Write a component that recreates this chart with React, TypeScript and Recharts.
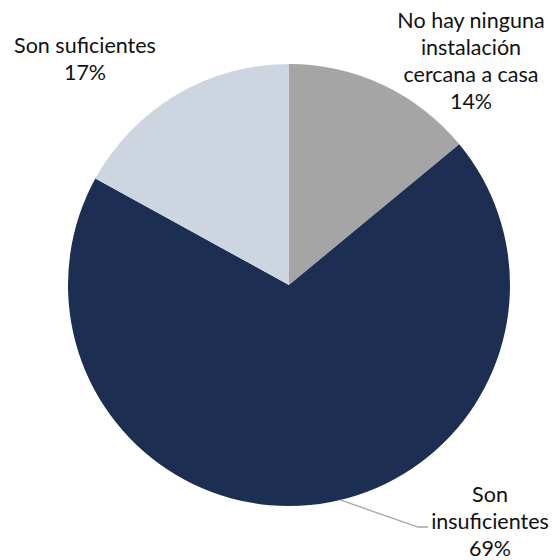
import { PieChart, Pie, Cell } from "recharts";

const categorias = ["No hay ninguna instalación cercana a casa", "Son insuficientes", "Son suficientes"];
const valores = [14, 69, 17];
const lineasEtiqueta = [["No hay ninguna", "instalación", "cercana a casa"], ["Son", "insuficientes"], ["Son suficientes"]];
const colores = ["#a5a5a5", "#1c2e52", "#cdd6e0"];

const dados = categorias.map((nome, i) => ({ nome, valor: valores[i] }));

const CX = 289;
const CY = 285;
const RAIO = 221;
const FONTE = "Lato, 'Open Sans', sans-serif";
const ESPACO = 27;

// where each label block sits, relative to the pie centre (x centre, first baseline)
const posEtiqueta = [
  { dx: 182, dy: -257 },
  { dx: 201, dy: 217 },
  { dx: -204, dy: -232 },
];

function Etiqueta(props: any) {
  const { index, percent } = props;
  const cx = props.cx ?? CX;
  const cy = props.cy ?? CY;
  const r = props.outerRadius ?? RAIO;
  const pos = posEtiqueta[index];
  const x = cx + pos.dx;
  const y0 = cy + pos.dy;
  const linhas = [...lineasEtiqueta[index], `${Math.round(percent * 100)}%`];

  let linha = null;
  if (index === 1) {
    const ang = (76.6 * Math.PI) / 180;
    const sx = cx + r * Math.cos(ang);
    const sy = cy + r * Math.sin(ang);
    linha = (
      <polyline
        points={`${sx},${sy} ${cx + 129},${cy + 242} ${cx + 139},${cy + 242}`}
        fill="none"
        stroke="#a6a6a6"
        strokeWidth={1.3}
      />
    );
  }

  return (
    <g>
      {linha}
      <text x={x} y={y0} textAnchor="middle" fill="#111" fontSize={21.5} fontFamily={FONTE}>
        {linhas.map((l, i) => (
          <tspan key={i} x={x} y={y0 + i * ESPACO}>
            {l}
          </tspan>
        ))}
      </text>
    </g>
  );
}

export default function App() {
  return (
    <div style={{ position: "absolute", left: 0, top: 0, width: 554, height: 560, background: "#fff" }}>
      <PieChart width={554} height={560} margin={{ top: 0, right: 0, bottom: 0, left: 0 }}>
        <Pie
          data={dados}
          dataKey="valor"
          nameKey="nome"
          cx={CX}
          cy={CY}
          outerRadius={RAIO}
          startAngle={90}
          endAngle={-270}
          stroke="none"
          label={Etiqueta}
          labelLine={false}
          isAnimationActive={false}
        >
          {dados.map((_, i) => (
            <Cell key={i} fill={colores[i]} />
          ))}
        </Pie>
      </PieChart>
    </div>
  );
}
